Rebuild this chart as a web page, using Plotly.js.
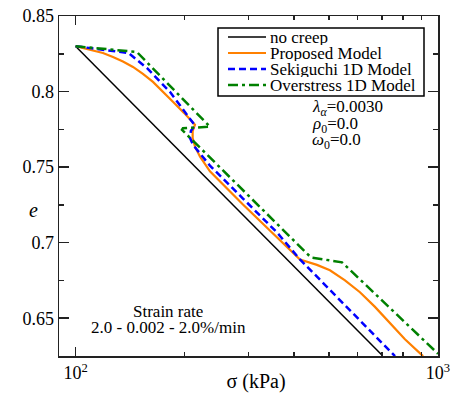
<!DOCTYPE html>
<html><head><meta charset="utf-8">
<script src="https://cdn.plot.ly/plotly-3.0.1.min.js"></script>
<style>html,body{margin:0;padding:0;background:#fff}#chart{width:454px;height:393px}</style>
</head><body><div id="chart"></div>
<script>
// ---- data ----
const seriesNames = ['no creep', 'Proposed Model', 'Sekiguchi 1D Model', 'Overstress 1D Model'];

const sigmaNoCreep = [100, 700];
const eNoCreep     = [0.830, 0.6256];

const sigmaProposed = [100, 104.8, 111.6, 119.0, 126.8, 135.1, 144.0, 153.4, 163.5, 174.2, 185.6, 199.1, 213.5, 211.4, 210.4, 210.4, 213.5, 220.3, 229.9, 234.8, 289.6, 359.4, 410.8, 416.1, 463.4, 503.3, 553.8, 609.1, 670.0, 736.9, 810.6, 909.3];
const eProposed     = [0.830, 0.8288, 0.8275, 0.8255, 0.8229, 0.8199, 0.8163, 0.8117, 0.8064, 0.8001, 0.7932, 0.7859, 0.7780, 0.7754, 0.7736, 0.7692, 0.7637, 0.7571, 0.7505, 0.7472, 0.7252, 0.7035, 0.6902, 0.6889, 0.6853, 0.6817, 0.6751, 0.6672, 0.6575, 0.6468, 0.6361, 0.6249];

const sigmaSekiguchi = [100, 140.0, 157.3, 182.1, 210.8, 213.5, 208.1, 206.8, 210.8, 234.8, 289.6, 359.4, 416.1, 760.9];
const eSekiguchi     = [0.830, 0.8255, 0.8156, 0.7998, 0.7793, 0.7774, 0.7741, 0.7694, 0.7648, 0.7510, 0.7292, 0.7068, 0.6889, 0.6249];

const sigmaOverstress = [100, 147.6, 234.8, 197.8, 196.6, 202.9, 446.2, 543.3, 1000];
const eOverstress     = [0.830, 0.8262, 0.7767, 0.7757, 0.7747, 0.7714, 0.6902, 0.6870, 0.6265];

const xTickVals  = [100, 1000];
const xTickText  = ['10<sup>2</sup>', '10<sup>3</sup>'];
const xMinorVals = [200, 300, 400, 500, 600, 700, 800, 900];

const paramLines  = ['<i>λ</i><sub><i>α</i></sub>=0.0030', '<i>ρ</i><sub>0</sub>=0.0', '<i>ω</i><sub>0</sub>=0.0'];
const strainLines = ['Strain rate', '2.0 - 0.002 - 2.0%/min'];

// ---- styles ----
const FONT = "'Liberation Serif', 'Times New Roman', Times, serif";
const styles = [
  {color: '#000000', width: 1.5, dash: 'solid'},
  {color: '#ff8000', width: 2.2, dash: 'solid'},
  {color: '#0000ff', width: 2.5, dash: '7px,4px'},
  {color: '#008000', width: 2.5, dash: '10px,4px,3px,4px'}
];
const xs = [sigmaNoCreep, sigmaProposed, sigmaSekiguchi, sigmaOverstress];
const ys = [eNoCreep, eProposed, eSekiguchi, eOverstress];

const traces = xs.map((x, i) => ({
  x: x, y: ys[i], type: 'scatter', mode: 'lines', name: seriesNames[i],
  line: {color: styles[i].color, width: styles[i].width, dash: styles[i].dash},
  showlegend: false
}));

// plot-area pixel geometry (for legend / annotation placement)
const L = 59, R = 438, T = 16, B = 356;
const px = p => (p - L) / (R - L);
const py = p => (B - p) / (B - T);

const shapes = [{type: 'rect', xref: 'paper', yref: 'paper',
  x0: px(218), x1: px(424), y0: py(28), y1: py(96),
  line: {color: '#000', width: 1.5}, fillcolor: '#fff', layer: 'above'}];
const annotations = [];
const rowY = [37, 53, 69, 85];
seriesNames.forEach((n, i) => {
  shapes.push({type: 'line', xref: 'paper', yref: 'paper',
    x0: px(228), x1: px(266), y0: py(rowY[i]), y1: py(rowY[i]),
    line: {color: styles[i].color, width: styles[i].width, dash: styles[i].dash}, layer: 'above'});
  annotations.push({xref: 'paper', yref: 'paper', x: px(269), y: py(rowY[i]),
    xanchor: 'left', yanchor: 'middle', showarrow: false, text: n, height: 16, borderpad: 0,
    font: {family: FONT, size: 17, color: '#000'}});
});
const paramY = [108, 125, 141];
paramLines.forEach((t, i) => annotations.push({xref: 'paper', yref: 'paper', x: px(311), y: py(paramY[i]),
  xanchor: 'left', yanchor: 'middle', showarrow: false, text: t, height: 16, borderpad: 0,
  font: {family: FONT, size: 17, color: '#000'}}));
const strainY = [311, 327];
strainLines.forEach((t, i) => annotations.push({xref: 'paper', yref: 'paper', x: px(168), y: py(strainY[i]),
  xanchor: 'center', yanchor: 'middle', showarrow: false, text: t, height: 16, borderpad: 0,
  font: {family: FONT, size: 17, color: '#000'}}));
annotations.push({xref: 'paper', yref: 'paper', x: px(33), y: py(210),
  xanchor: 'center', yanchor: 'middle', showarrow: false, text: '<i>e</i>',
  font: {family: FONT, size: 20, color: '#000'}});

const layout = {
  width: 454, height: 393,
  margin: {l: L, r: 454 - R, t: T, b: 393 - B, pad: 0},
  paper_bgcolor: '#fff', plot_bgcolor: '#fff',
  showlegend: false,
  font: {family: FONT, size: 17, color: '#000'},
  xaxis: {
    type: 'log', range: [Math.log10(90), 3],
    tickmode: 'array', tickvals: xTickVals, ticktext: xTickText,
    ticks: 'inside', ticklen: 9, tickwidth: 1.5, tickcolor: '#222',
    showline: true, linecolor: '#222', linewidth: 1.5, mirror: 'ticks',
    showgrid: false, zeroline: false,
    minor: {tickmode: 'array', tickvals: xMinorVals, ticks: 'inside', ticklen: 4, tickwidth: 1.5, tickcolor: '#222', showgrid: false},
    tickfont: {family: FONT, size: 18, color: '#000'},
    title: {text: '&nbsp;&nbsp;&nbsp;σ (kPa)', font: {family: FONT, size: 20, color: '#000'}, standoff: 4}
  },
  yaxis: {
    range: [0.625, 0.85], tick0: 0.65, dtick: 0.05,
    ticks: 'inside', ticklen: 10, tickwidth: 1.5, tickcolor: '#222',
    showline: true, linecolor: '#222', linewidth: 1.5, mirror: 'ticks',
    showgrid: false, zeroline: false,
    minor: {dtick: 0.025, tick0: 0.65, ticks: 'inside', ticklen: 5, tickwidth: 1.5, tickcolor: '#222', showgrid: false},
    tickfont: {family: FONT, size: 18, color: '#000'},
    title: {text: ''}
  },
  shapes: shapes,
  annotations: annotations
};

Plotly.newPlot('chart', traces, layout, {displayModeBar: false, staticPlot: true});
</script>
</body></html>
